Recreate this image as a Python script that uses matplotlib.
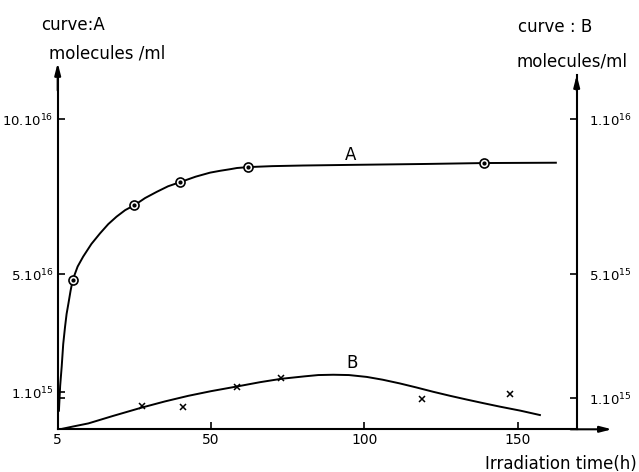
import numpy as np
import matplotlib.pyplot as plt

plt.rcParams['font.family'] = 'DejaVu Sans'
plt.rcParams['mathtext.default'] = 'regular'

# curve A : measured points (time in h, concentration in 1e16 molecules/ml)
a_time = [5, 25, 40, 62, 139]
a_conc = [4.82, 7.24, 7.99, 8.47, 8.59]
# hand-drawn fit through the A points
a_fit_t = [0.4, 0.8, 1.3, 1.8, 2.4, 2.9, 3.5, 4.2, 4.9, 6.5, 8.3, 11, 13.8, 16.5, 19.2, 22,
           25.2, 28.5, 32.3, 36, 40.4, 45, 49.7, 53, 56.2, 58.5, 62.4, 70, 80, 95.3, 120, 139.4, 162.5]
a_fit_y = [0.6, 1.4, 2.02, 2.75, 3.31, 3.72, 4.06, 4.47, 4.82, 5.25, 5.57, 5.98, 6.32, 6.62, 6.86, 7.07,
           7.24, 7.46, 7.66, 7.84, 7.99, 8.15, 8.28, 8.34, 8.39, 8.43, 8.46, 8.49, 8.51, 8.53, 8.56, 8.59, 8.60]

# curve B : measured points (time in h, concentration in 1e15 molecules/ml)
b_time = [27.6, 41, 58.4, 73, 118.7, 147.5]
b_conc = [0.76, 0.71, 1.35, 1.66, 0.97, 1.14]
b_fit_t = [0.7, 5, 10, 18, 27.4, 35, 42.6, 50, 58.4, 66, 73, 80.7, 85, 89.9, 95, 100.8,
           106, 111.6, 117, 122.5, 128, 133.4, 139, 144.3, 151, 157.3]
b_fit_y = [0.0, 0.09, 0.19, 0.43, 0.70, 0.90, 1.08, 1.23, 1.38, 1.52, 1.63, 1.71, 1.75, 1.76, 1.75, 1.69,
           1.60, 1.48, 1.35, 1.21, 1.08, 0.96, 0.84, 0.73, 0.60, 0.46]

x_ticks = [0, 50, 100, 150]
x_labels = ['5', '50', '100', '150']
left_ticks = [1.2, 5, 10]
left_labels = ['1.10$^{15}$', '5.10$^{16}$', '10.10$^{16}$']
right_ticks = [1, 5, 10]
right_labels = ['1.10$^{15}$', '5.10$^{15}$', '1.10$^{16}$']

W, H = 639, 472
fig = plt.figure(figsize=(W / 100, H / 100), dpi=100)
ax = fig.add_axes([57.7 / W, 1 - 429.3 / H, 519 / W, 354.3 / H])
ax2 = ax.twinx()

xmax, ymax = 169.3, 11.43
ax.set_xlim(0, xmax)
ax.set_ylim(0, ymax)
ax2.set_ylim(0, ymax)

lw = 1.4
ax.plot(a_fit_t, a_fit_y, color='black', lw=lw, solid_joinstyle='round')
ax.plot(a_time, a_conc, 'o', ms=6.5, mfc='white', mec='black', mew=1.2)
ax.plot(a_time, a_conc, 'o', ms=2, color='black')
ax.text(95.4, 8.85, 'A', fontsize=12, ha='center', va='center')

ax2.plot(b_fit_t, b_fit_y, color='black', lw=lw, solid_joinstyle='round')
ax2.plot(b_time, b_conc, 'x', ms=5, color='black', mew=1.1)
ax2.text(96, 2.14, 'B', fontsize=12, ha='center', va='center')

for a in (ax, ax2):
    for s in a.spines.values():
        s.set_visible(False)
ax.spines['left'].set_visible(True)
ax.spines['bottom'].set_visible(True)
ax2.spines['right'].set_visible(True)
for s in ('left', 'bottom'):
    ax.spines[s].set_linewidth(1.5)
ax2.spines['right'].set_linewidth(1.5)

ax.set_xticks(x_ticks, x_labels)
ax.set_yticks(left_ticks, left_labels)
ax.set_yticks([1.0], minor=True)
ax.tick_params(axis='x', direction='in', length=5, width=1.2, pad=3, labelsize=10)
ax.tick_params(axis='y', which='both', direction='in', length=5, width=1.2, pad=3, labelsize=9.5)
ax2.set_yticks(right_ticks, right_labels)
ax2.tick_params(axis='y', direction='in', length=5, width=1.2, pad=9, labelsize=9.5)

# arrow heads on the axes
arrow = dict(arrowstyle='-|>,head_length=0.7,head_width=0.18', color='black', lw=1.5, shrinkA=0, shrinkB=0)
ax.annotate('', xy=(0, 11.82), xytext=(0, ymax - 0.5), arrowprops=arrow, annotation_clip=False)
ax.annotate('', xy=(180.8, 0), xytext=(xmax - 2, 0), arrowprops=arrow, annotation_clip=False)
ax.annotate('', xy=(xmax, ymax), xytext=(xmax, ymax - 0.5), arrowprops=arrow, annotation_clip=False)

fig.text(73 / W, 1 - 25 / H, 'curve:A', fontsize=12, ha='center', va='center')
fig.text(107 / W, 1 - 54 / H, 'molecules /ml', fontsize=12, ha='center', va='center')
fig.text(555 / W, 1 - 27 / H, 'curve : B', fontsize=12, ha='center', va='center')
fig.text(572 / W, 1 - 62 / H, 'molecules/ml', fontsize=12, ha='center', va='center')
fig.text(637 / W, 1 - 464 / H, 'Irradiation time(h)', fontsize=12, ha='right', va='center')

fig.savefig('out.png', dpi=100)
